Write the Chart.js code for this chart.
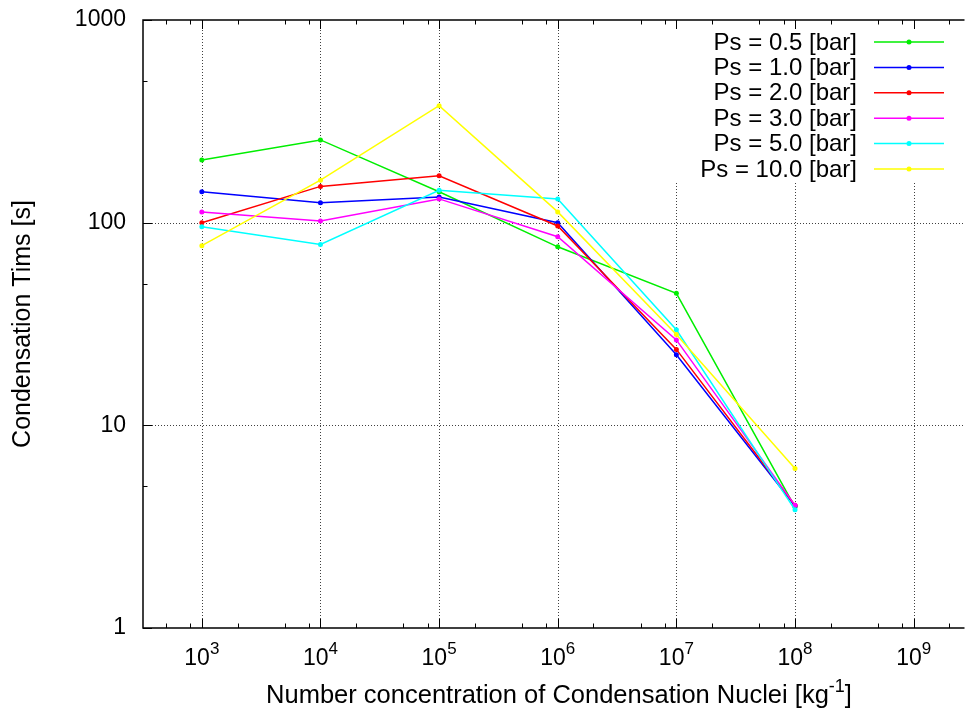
<!DOCTYPE html>
<html>
<head>
<meta charset="utf-8">
<script src="https://cdn.jsdelivr.net/npm/chart.js@4/dist/chart.umd.min.js"></script>
<style>
html,body{margin:0;padding:0;background:#fff;}
canvas{display:block;}
</style>
</head>
<body>
<canvas id="c" width="967" height="709"></canvas>
<script>
// ---- data ----
const concentrations = [1e3, 1e4, 1e5, 1e6, 1e7, 1e8];
const seriesLabels = ['Ps = 0.5 [bar]', 'Ps = 1.0 [bar]', 'Ps = 2.0 [bar]', 'Ps = 3.0 [bar]', 'Ps = 5.0 [bar]', 'Ps = 10.0 [bar]'];
const ps05 = [204, 256, 142, 76, 44.8, 3.95];
const ps10 = [142, 125.5, 134, 100, 22.3, 4.0];
const ps20 = [100, 151, 170.5, 96.3, 23.7, 4.03];
const ps30 = [113, 102, 131, 85.3, 26.4, 4.03];
const ps50 = [95.5, 78, 144.5, 131, 29.6, 3.83];
const ps100 = [77, 162, 378, 113, 28.1, 6.12];
const xMajorTicks = [1e3, 1e4, 1e5, 1e6, 1e7, 1e8, 1e9];
const xMinorMults = [2, 5, 8];
const yTicks = [1, 10, 100, 1000];
const yMinorTicks = [5, 50, 500];
const yGridValues = [10, 100];
const xTitle = 'Number concentration of Condensation Nuclei [kg';
const xTitleSup = '-1';
const yTitle = 'Condensation Tims [s]';

const colors = ['#00ee00', '#0000ff', '#ff0000', '#ff00ff', '#00ffff', '#ffff00'];
const allSeries = [ps05, ps10, ps20, ps30, ps50, ps100];

const FONT = '"Liberation Sans", Arial, Helvetica, sans-serif';

const datasets = allSeries.map((vals, i) => ({
  label: seriesLabels[i],
  data: concentrations.map((x, j) => ({x: x, y: vals[j]})),
  borderColor: colors[i],
  backgroundColor: colors[i],
  borderWidth: 1.5,
  pointRadius: 2.5,
  pointHoverRadius: 2.5,
  pointBorderWidth: 0,
  pointStyle: 'circle',
  tension: 0,
  order: allSeries.length - i
}));

const LEGEND_BLANK = {x0: 668, y1: 183};

const framePlugin = {
  id: 'frame',
  beforeDatasetsDraw(chart) {
    const ctx = chart.ctx;
    const a = chart.chartArea;
    const xs = chart.scales.x, ys = chart.scales.y;
    ctx.save();
    ctx.strokeStyle = 'rgba(0,0,0,0.75)';
    ctx.lineWidth = 1;
    ctx.setLineDash([1, 2]);
    xMajorTicks.forEach(v => {
      const px = Math.round(xs.getPixelForValue(v)) + 0.5;
      if (px < a.left || px > a.right) return;
      const top = px >= LEGEND_BLANK.x0 ? LEGEND_BLANK.y1 : a.top;
      ctx.beginPath(); ctx.moveTo(px, a.bottom); ctx.lineTo(px, top); ctx.stroke();
    });
    yGridValues.forEach(v => {
      const py = Math.round(ys.getPixelForValue(v)) + 0.5;
      ctx.beginPath(); ctx.moveTo(a.left, py); ctx.lineTo(a.right, py); ctx.stroke();
    });
    ctx.setLineDash([]);
    ctx.strokeStyle = '#000';
    ctx.lineWidth = 1.5;
    ctx.beginPath();
    ctx.moveTo(a.right, a.top); ctx.lineTo(a.left, a.top);
    ctx.lineTo(a.left, a.bottom); ctx.lineTo(a.right, a.bottom);
    ctx.stroke();
    ctx.lineWidth = 1;
    const tick = (px, len) => {
      px = Math.round(px) + 0.5;
      if (px <= a.left || px > a.right) return;
      ctx.beginPath(); ctx.moveTo(px, a.bottom); ctx.lineTo(px, a.bottom - len); ctx.stroke();
      ctx.beginPath(); ctx.moveTo(px, a.top); ctx.lineTo(px, a.top + len); ctx.stroke();
    };
    xMajorTicks.forEach(v => tick(xs.getPixelForValue(v), 9));
    for (let d = 1e2; d <= 1e9; d *= 10) {
      xMinorMults.forEach(m => tick(xs.getPixelForValue(m * d), 4.5));
    }
    const ytick = (py, len) => {
      py = Math.round(py) + 0.5;
      ctx.beginPath(); ctx.moveTo(a.left, py); ctx.lineTo(a.left + len, py); ctx.stroke();
    };
    yTicks.forEach(v => ytick(ys.getPixelForValue(v), 9));
    yMinorTicks.forEach(v => ytick(ys.getPixelForValue(v), 4.5));
    ctx.restore();
  },
  afterDraw(chart) {
    const ctx = chart.ctx;
    const a = chart.chartArea;
    const xs = chart.scales.x;
    ctx.save();
    ctx.fillStyle = '#000';
    ctx.textBaseline = 'alphabetic';
    xMajorTicks.forEach(v => {
      const px = xs.getPixelForValue(v);
      const exp = String(Math.round(Math.log10(v)));
      ctx.font = '23px ' + FONT;
      const wb = ctx.measureText('10').width;
      ctx.font = '17px ' + FONT;
      const we = ctx.measureText(exp).width;
      const x0 = px - (wb + we) / 2;
      ctx.font = '23px ' + FONT;
      ctx.textAlign = 'left';
      ctx.fillText('10', x0, 665);
      ctx.font = '17px ' + FONT;
      ctx.fillText(exp, x0 + wb, 654);
    });
    ctx.font = '25.5px ' + FONT;
    const wt = ctx.measureText(xTitle).width;
    ctx.font = '18px ' + FONT;
    const ws = ctx.measureText(xTitleSup).width;
    ctx.font = '25.5px ' + FONT;
    const wc = ctx.measureText(']').width;
    const total = wt + ws + wc;
    let tx = 559 - total / 2;
    ctx.textAlign = 'left';
    ctx.fillText(xTitle, tx, 703);
    ctx.font = '18px ' + FONT;
    ctx.fillText(xTitleSup, tx + wt, 692);
    ctx.font = '25.5px ' + FONT;
    ctx.fillText(']', tx + wt + ws, 703);
    ctx.save();
    ctx.translate(23, (a.top + a.bottom) / 2);
    ctx.rotate(-Math.PI / 2);
    ctx.textAlign = 'center';
    ctx.textBaseline = 'middle';
    ctx.font = '25px ' + FONT;
    ctx.fillText(yTitle, 0, 0);
    ctx.restore();
    chart.data.datasets.forEach((ds, i) => {
      const y = 42 + 25.4 * i;
      ctx.font = '24px ' + FONT;
      ctx.textAlign = 'right';
      ctx.textBaseline = 'middle';
      ctx.fillStyle = '#000';
      ctx.fillText(ds.label, 857, y + 1);
      ctx.strokeStyle = ds.borderColor;
      ctx.lineWidth = 1.5;
      ctx.beginPath(); ctx.moveTo(874, y); ctx.lineTo(944, y); ctx.stroke();
      ctx.fillStyle = ds.backgroundColor;
      ctx.beginPath(); ctx.arc(909, y, 2.5, 0, Math.PI * 2); ctx.fill();
    });
    ctx.restore();
  }
};

new Chart(document.getElementById('c'), {
  type: 'line',
  data: {datasets: datasets},
  options: {
    responsive: false,
    animation: false,
    devicePixelRatio: 1,
    layout: {padding: {top: 20, right: 0, left: 0, bottom: 0}},
    plugins: {legend: {display: false}, tooltip: {enabled: false}, title: {display: false}},
    scales: {
      x: {
        type: 'logarithmic',
        min: Math.pow(10, 2.5042),
        max: Math.pow(10, 9.4286),
        ticks: {display: false},
        grid: {display: false, drawTicks: false},
        border: {display: false},
        afterFit: s => { s.height = 81; s.paddingLeft = 0; s.paddingRight = 0; }
      },
      y: {
        type: 'logarithmic',
        min: 1,
        max: 1000,
        afterBuildTicks: s => { s.ticks = yTicks.map(v => ({value: v})); },
        ticks: {
          color: '#000',
          font: {family: FONT, size: 23},
          padding: 17,
          callback: v => String(v)
        },
        grid: {display: false, drawTicks: false},
        border: {display: false},
        afterFit: s => { s.width = 143; s.paddingTop = 0; s.paddingBottom = 0; }
      }
    }
  },
  plugins: [framePlugin]
});
</script>
</body>
</html>
